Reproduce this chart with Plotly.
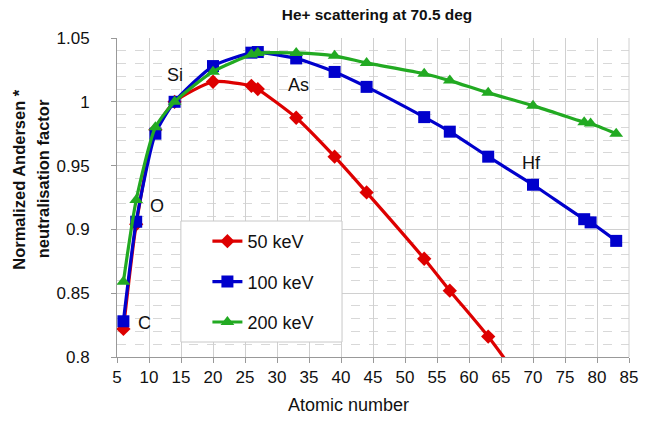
import plotly.graph_objects as go

Z = [6, 8, 11, 14, 20, 26, 27, 33, 39, 44, 53, 57, 63, 70, 78, 79, 83]
kev50 = [0.822, 0.904, 0.978, 1.000, 1.0157, 1.0125, 1.010, 0.9875, 0.957, 0.929, 0.877, 0.852, 0.816, 0.768]
kev100 = [0.828, 0.906, 0.975, 1.000, 1.028, 1.0385, 1.039, 1.034, 1.0234, 1.0117, 0.988, 0.9766, 0.957, 0.935, 0.908, 0.9055, 0.891]
kev200 = [0.859, 0.923, 0.980, 1.000, 1.0236, 1.037, 1.0383, 1.0383, 1.036, 1.0305, 1.022, 1.0166, 1.007, 0.997, 0.984, 0.983, 0.975]
labels = ["C", "O", "Si", "As", "Hf"]
label_x = [9.3, 11.3, 14.1, 33.3, 69.7]
label_y = [0.827, 0.918, 1.021, 1.0133, 0.952]

W, H = 650, 424
L, R, T, B = 117, 12, 38, 67
PW, PH = W - L - R, H - T - B

def px_x(p):
    return (p - L) / PW

def px_y(p):
    return (H - B - p) / PH

FONT = "Arial, Liberation Sans, sans-serif"

fig = go.Figure()
fig.add_trace(go.Scatter(x=Z[:len(kev50)], y=kev50, name="50 keV", mode="lines+markers", legendgroup="a",
                         line=dict(color="#DD0000", width=3.2, shape="spline", smoothing=0.6),
                         marker=dict(symbol="diamond", size=11, color="#DD0000")))
fig.add_trace(go.Scatter(x=Z, y=kev100, name="100 keV", mode="lines+markers", legendgroup="b",
                         line=dict(color="#0000CC", width=3.2, shape="spline", smoothing=0.6),
                         marker=dict(symbol="square", size=12, color="#0000CC")))
fig.add_trace(go.Scatter(x=Z, y=kev200, name="200 keV", mode="lines+markers", legendgroup="c",
                         line=dict(color="#22AA22", width=3.2, shape="spline", smoothing=0.6),
                         marker=dict(symbol="triangle-up", size=12, color="#22AA22")))

for t, x, y in zip(labels, label_x, label_y):
    fig.add_annotation(x=x, y=y, text=t, showarrow=False,
                       font=dict(family=FONT, size=18, color="#111"))

# axis titles
fig.add_annotation(xref="paper", yref="paper", x=px_x(353), y=px_y(405), xanchor="center", yanchor="middle",
                   text="Atomic number", showarrow=False, font=dict(family=FONT, size=18, color="#111"))
fig.add_annotation(xref="paper", yref="paper", x=px_x(17), y=px_y(179), xanchor="center", yanchor="middle",
                   text="<b>Normalized Andersen *</b>",
                   textangle=-90, showarrow=False, font=dict(family=FONT, size=16.5, color="#111"))
fig.add_annotation(xref="paper", yref="paper", x=px_x(42), y=px_y(179), xanchor="center", yanchor="middle",
                   text="<b>neutralisation factor</b>",
                   textangle=-90, showarrow=False, font=dict(family=FONT, size=16.5, color="#111"))

# legend box
fig.add_shape(type="rect", xref="paper", yref="paper", x0=px_x(182), x1=px_x(346), y0=px_y(342), y1=px_y(221),
              fillcolor="white", line=dict(color="#C8C8C8", width=1), layer="above")

fig.update_layout(
    width=W, height=H,
    margin=dict(l=L, r=R, t=T, b=B),
    paper_bgcolor="white", plot_bgcolor="white",
    title=dict(text="<b>He+ scattering at 70.5 deg</b>", x=377 / W, xanchor="center",
               y=1 - 15 / H, yanchor="middle",
               font=dict(family=FONT, size=15.4, color="#111")),
    font=dict(family=FONT, color="#111"),
    legend=dict(x=px_x(209), y=px_y(223), xanchor="left", yanchor="top",
                bgcolor="rgba(0,0,0,0)", borderwidth=0,
                font=dict(size=18, family=FONT, color="#111"), tracegroupgap=14),
    showlegend=True,
)
fig.update_xaxes(range=[5, 85], dtick=5, tick0=5, showgrid=True, gridcolor="#D0D0D0", gridwidth=1,
                 showline=True, linecolor="#999", ticks="outside", ticklen=5, tickcolor="#999",
                 tickfont=dict(size=17, family=FONT, color="#111"), zeroline=False)
fig.update_yaxes(range=[0.8, 1.05], dtick=0.05, tick0=0.8, showgrid=True, gridcolor="#D0D0D0", gridwidth=1,
                 showline=True, linecolor="#999", ticks="outside", ticklen=5, tickcolor="#999",
                 tickfont=dict(size=17, family=FONT, color="#111"), ticklabelstandoff=18,
                 minor=dict(dtick=0.01, showgrid=True, gridcolor="#D8D8D8", griddash="dash", gridwidth=1),
                 zeroline=False)
fig.add_shape(type="line", xref="paper", yref="paper", x0=1, x1=1, y0=0, y1=1, line=dict(color="#D0D0D0", width=1))

fig.write_html("out.html")
